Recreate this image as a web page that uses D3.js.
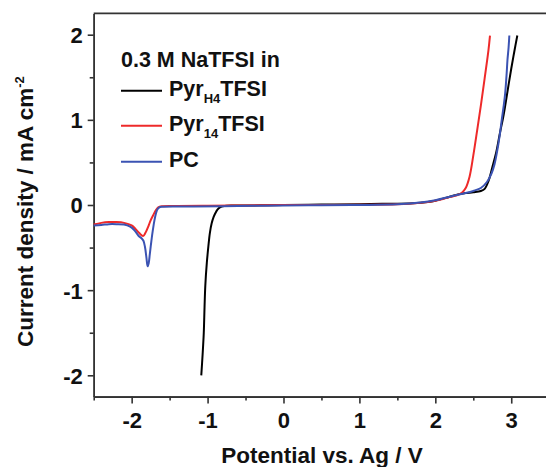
<!DOCTYPE html>
<html>
<head>
<meta charset="utf-8">
<script src="https://cdn.jsdelivr.net/npm/d3@7"></script>
<style>
  body { margin: 0; background: #fff; }
  text { font-family: "Liberation Sans", Arial, sans-serif; font-weight: bold; fill: #111; }
</style>
</head>
<body>
<script>
// potential (V) and current density (mA cm-2)
var h4Potential = [-1.083, -1.065, -1.05, -1.04, -1.03, -1.01, -0.99, -0.97, -0.946, -0.92, -0.90, -0.87, -0.837, -0.8, -0.75,
  -0.6, -0.3, 0, 0.5, 1.0, 1.3, 1.5, 1.7, 1.9, 2.0, 2.1, 2.2, 2.3, 2.4, 2.5, 2.6, 2.65, 2.7, 2.75, 2.8, 2.85, 2.9, 2.95, 3.0, 3.04, 3.08];
var h4Current = [-2.0, -1.75, -1.5, -1.2, -0.95, -0.68, -0.49, -0.33, -0.215, -0.14, -0.1, -0.055, -0.027, -0.015, -0.008,
  -0.007, -0.004, 0, 0.005, 0.01, 0.015, 0.015, 0.02, 0.035, 0.05, 0.075, 0.1, 0.125, 0.14, 0.15, 0.165, 0.19, 0.28, 0.44, 0.61, 0.84, 1.06, 1.33, 1.6, 1.8, 1.99];

var p14Potential = [-2.5, -2.4, -2.3, -2.2, -2.1, -2.0, -1.95, -1.9, -1.85, -1.82, -1.78, -1.75, -1.715, -1.68, -1.65, -1.6,
  -1.4, -1.0, -0.5, 0, 0.5, 1.0, 1.5, 1.8, 2.0, 2.1, 2.2, 2.3, 2.35, 2.4, 2.45, 2.5, 2.55, 2.6, 2.65, 2.7, 2.72];
var p14Current = [-0.23, -0.21, -0.2, -0.2, -0.21, -0.24, -0.28, -0.33, -0.364, -0.33, -0.25, -0.18, -0.117, -0.06, -0.027, -0.015,
  -0.012, -0.008, -0.005, 0, 0, 0.002, 0.008, 0.025, 0.05, 0.07, 0.095, 0.12, 0.145, 0.2, 0.33, 0.58, 0.87, 1.17, 1.49, 1.82, 1.99];

var pcPotential = [-2.5, -2.4, -2.3, -2.2, -2.1, -2.02, -1.97, -1.935, -1.9, -1.87, -1.845, -1.825, -1.805, -1.79, -1.775, -1.76,
  -1.74, -1.72, -1.70, -1.68, -1.66, -1.635, -1.6, -1.2, -0.8, -0.4, 0, 0.5, 1.0, 1.5, 1.8, 2.0, 2.2, 2.4, 2.5, 2.6, 2.68, 2.74,
  2.78, 2.81, 2.85, 2.875, 2.9, 2.92, 2.94, 2.95, 2.965, 2.975];
var pcCurrent = [-0.24, -0.235, -0.225, -0.225, -0.23, -0.255, -0.29, -0.33, -0.37, -0.39, -0.42, -0.49, -0.62, -0.72, -0.68, -0.57,
  -0.42, -0.29, -0.18, -0.1, -0.05, -0.027, -0.02, -0.018, -0.015, -0.01, -0.005, -0.003, 0, 0.008, 0.028, 0.055, 0.1, 0.14, 0.165, 0.2, 0.27, 0.37,
  0.48, 0.61, 0.83, 1.0, 1.16, 1.31, 1.55, 1.7, 1.85, 1.99];

var xTicks = [-2, -1, 0, 1, 2, 3];
var xMinor = [-2.5, -1.5, -0.5, 0.5, 1.5, 2.5, 3.5];
var yTicks = [-2, -1, 0, 1, 2];
var yMinor = [-1.5, -0.5, 0.5, 1.5];

var width = 546, height = 467;
var plotLeft = 93.7, plotRight = 549.2, plotTop = 13.4, plotBottom = 396.6;

var svg = d3.select("body").append("svg")
  .attr("width", width)
  .attr("height", height);

var x = d3.scaleLinear().domain([-2.5, 3.5]).range([plotLeft, plotRight]);
var y = d3.scaleLinear().domain([-2.25, 2.25]).range([plotBottom, plotTop]);

// plain hyphen minus like the original
var fmt = function(d) { return String(d); };

// minor ticks first, then majors with labels
svg.append("g")
  .attr("transform", "translate(0," + plotBottom + ")")
  .call(d3.axisBottom(x).tickValues(xMinor).tickSize(4).tickSizeOuter(0).tickFormat(""));
svg.append("g")
  .attr("transform", "translate(" + plotLeft + ",0)")
  .call(d3.axisLeft(y).tickValues(yMinor).tickSize(4).tickSizeOuter(0).tickFormat(""));

var xAxis = svg.append("g")
  .attr("transform", "translate(0," + plotBottom + ")")
  .call(d3.axisBottom(x).tickValues(xTicks).tickSize(7).tickSizeOuter(0).tickPadding(9).tickFormat(fmt));
var yAxis = svg.append("g")
  .attr("transform", "translate(" + plotLeft + ",0)")
  .call(d3.axisLeft(y).tickValues(yTicks).tickSize(6).tickSizeOuter(0).tickPadding(5).tickFormat(fmt));

svg.selectAll(".domain, .tick line").attr("stroke", "#333").attr("stroke-width", 1.6);
xAxis.selectAll("text").attr("font-size", "22px").attr("fill", "#111").attr("dy", "0.72em");
yAxis.selectAll("text").attr("font-size", "22px").attr("fill", "#111").attr("dy", "0.36em");

// top frame line
svg.append("line")
  .attr("x1", plotLeft).attr("x2", plotRight)
  .attr("y1", plotTop).attr("y2", plotTop)
  .attr("stroke", "#333").attr("stroke-width", 1.6);

var series = [
  { xs: h4Potential, ys: h4Current, color: "#000000" },
  { xs: p14Potential, ys: p14Current, color: "#ee2a2a" },
  { xs: pcPotential, ys: pcCurrent, color: "#3b53b3" }
];

var line = d3.line()
  .x(function(d) { return x(d[0]); })
  .y(function(d) { return y(d[1]); })
  .curve(d3.curveCatmullRom.alpha(0.5));

series.forEach(function(s) {
  var pts = s.xs.map(function(v, i) { return [v, s.ys[i]]; });
  svg.append("path")
    .attr("d", line(pts))
    .attr("fill", "none")
    .attr("stroke", s.color)
    .attr("stroke-width", 2);
});

// legend
svg.append("text")
  .attr("x", 121).attr("y", 66.5)
  .attr("font-size", "21.5px")
  .text("0.3 M NaTFSI in");

var legendRows = [
  { name: "Pyr", sub: "H4", rest: "TFSI", color: "#000000", y: 90.7 },
  { name: "Pyr", sub: "14", rest: "TFSI", color: "#ee2a2a", y: 125.7 },
  { name: "PC", sub: "", rest: "", color: "#3b53b3", y: 161.7 }
];

legendRows.forEach(function(r) {
  svg.append("line")
    .attr("x1", 121).attr("x2", 162)
    .attr("y1", r.y).attr("y2", r.y)
    .attr("stroke", r.color).attr("stroke-width", 2);
  var t = svg.append("text")
    .attr("x", 169).attr("y", r.y + 5)
    .attr("font-size", "21.5px");
  t.append("tspan").text(r.name);
  if (r.sub) {
    t.append("tspan").attr("font-size", "13px").attr("dy", 7).text(r.sub);
    t.append("tspan").attr("dy", -7).text(r.rest);
  }
});

// axis titles
svg.append("text")
  .attr("x", 322).attr("y", 463)
  .attr("text-anchor", "middle")
  .attr("font-size", "22.5px")
  .text("Potential vs. Ag / V");

var yt = svg.append("text")
  .attr("transform", "translate(33,347) rotate(-90)")
  .attr("font-size", "22.5px");
yt.append("tspan").text("Current density / mA cm");
yt.append("tspan").attr("font-size", "13px").attr("dy", -9).text("-2");
</script>
</body>
</html>
